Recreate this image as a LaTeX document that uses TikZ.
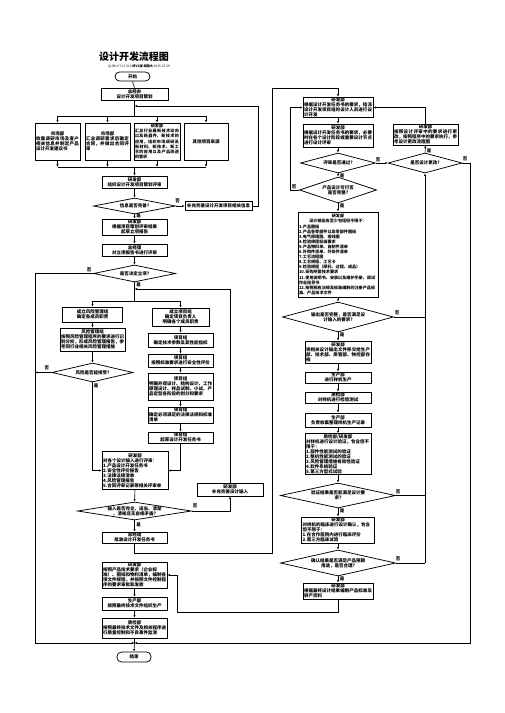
\documentclass[tikz,border=0pt]{standalone}
\usepackage{fontspec}
\setmainfont{Noto Sans CJK SC}
\usetikzlibrary{shapes.geometric,arrows.meta}
\XeTeXlinebreaklocale "zh"
\XeTeXlinebreakskip=0pt plus 0.8pt
\newcommand\hd[1]{{\centering #1\par}}
\newcommand\fsz{\fontsize{4.5}{5.0}\selectfont\bfseries}
\newcommand\fsm{\fontsize{4.1}{5.1}\selectfont\bfseries}
\tikzset{
  bx/.style={draw, line width=0.75pt, inner sep=0.6pt, font=\fsz, align=flush center,
    minimum width=#1pt, /utils/exec={\pgfmathsetlengthmacro\tw{#1pt-2pt}}, text width/.expanded=\tw},
  bxj/.style={bx=#1, align=justify},
  bxl/.style={bx=#1, align=flush left},
  dia/.style n args={2}{diamond, draw, line width=0.75pt, inner sep=0pt, minimum width=#1pt, minimum height=#2pt},
  dt/.style={font=\fsz, align=flush center, inner sep=0pt},
  yn/.style={font=\fsz, inner sep=0pt},
  ov/.style={draw, line width=0.75pt, rounded corners=4.5pt, font=\fsz, minimum width=35pt, minimum height=9pt, inner sep=0pt},
  ln/.style={line width=0.6pt},
  ar/.style={line width=0.6pt, -{Latex[length=2.6pt,width=2.2pt]}},
}
\begin{document}
\begin{tikzpicture}[x=1pt,y=-1pt]
\useasboundingbox (0,0) rectangle (504,713);
% title
\node[font=\bfseries\fontsize{10}{12}\selectfont, inner sep=0pt] (title) at (134,57) {设计开发流程图};
\node[font=\fontsize{3.2}{4}\selectfont, inner sep=0pt] (sub) at (139,66) {QI.RD.07.17.013 \textbf{修V1版 胡国大} 2015.07.29};
\node[ov] (start) at (132.5,76.5) {开始};
\node[bx=67, minimum height=12pt] (plan) at (134.5,94) {总经办\\设计开发项目策划};
% four sources
\node[bxj=45, minimum height=37pt] (b1) at (57.5,141.5) {\hd{市场部}收集调研市场及客户相关信息并制定产品设计开发建议书};
\node[bxj=45, minimum height=37pt] (b2) at (107.5,141.5) {\hd{市场部}汇总调研需求后确定合同，并做出合同评审};
\node[bxj=46, minimum height=37pt, font=\fsm] (b3) at (157,141.5) {\hd{研发部}汇总行业最新技术动向以及新器件、新技术的应用，组织市场调研及新材料、新技术、新工艺的应用以及产品改进的需求};
\node[bx=44, minimum height=37pt] (b4) at (206,141.5) {其他项目来源};
\coordinate (j106) at (134.5,106);
\coordinate (jdist) at (134.5,116);
\coordinate (jcol) at (134.5,167);
\draw[ln] (start.south) -- (plan.north);
\draw[ln] (plan.south) -- (jdist);
\draw[ln] (b1.north |- jdist) -- (b4.north |- jdist);
\foreach \b in {b1,b2,b3,b4} {
  \draw[ar] (\b.north |- jdist) -- (\b.north);
  \draw[ar] (\b.south) -- (\b.south |- jcol);
}
\draw[ln] (b1.south |- jcol) -- (b4.south |- jcol);
\node[bx=65, minimum height=12pt] (rev1) at (134.5,182) {研发部\\组织设计开发项目策划评审};
\draw[ar] (jcol) -- (rev1.north);
\node[dia={82}{16}] (d1) at (134.5,206) {};
\node[dt] (d1t) at (d1) {信息是否完善?};
\node[bx=67, minimum height=9pt] (sup1) at (218.5,206) {补充完善设计开发项目相关信息};
\coordinate (lp1) at (258,206);
\draw[ar] (rev1.south) -- (d1.north);
\draw[ar] (d1.east) -- (sup1.west);
\node[yn] (d1n) at (177.5,201) {否};
\draw[ar] (sup1.east) -- (lp1) |- (j106);
\node[bx=65, minimum height=16pt] (rep) at (134.5,227) {研发部\\根据项目策划评审结果\\起草立项报告};
\draw[ar] (d1.south) -- (rep.north);
\node[yn] (d1y) at (138.5,216) {是};
\node[bx=65, minimum height=12pt] (gm) at (134.5,250) {总经理\\对立项报告书进行评审};
\draw[ar] (rep.south) -- (gm.north);
\node[dia={82}{17}] (d2) at (134.5,273.5) {};
\node[dt] (d2t) at (d2) {是否决定立项?};
\draw[ar] (gm.south) -- (d2.north);
\node[yn] (d2n) at (89,270) {否};
\node[yn] (d2y) at (138.5,285) {是};
\coordinate (xl1) at (35,273.5);
\coordinate (j289) at (134.5,289);
\coordinate (jsplit) at (134.5,301);
\coordinate (jend) at (134.5,643);
\draw[ln] (d2.south) -- (jsplit);
% left risk column
\node[bx=60, minimum height=15pt] (l1) at (92.5,314.5) {成立风险管理组\\确定各成员职责};
\node[bxj=65, minimum height=23pt] (l2) at (92.5,339.5) {\hd{风险管理组}按照风险管理程序的要求进行识别分析，形成风险管理报告，参考同行业相关风险管理措施};
\node[dia={81}{19}] (dl) at (92.5,372.5) {};
\node[dt] (dlt) at (dl) {风险是否能接受?};
% right project column
\node[bx=57, minimum height=18pt] (r1) at (180.5,317) {成立项目组\\确定项目负责人\\明确各个成员职责};
\node[bx=65, minimum height=14pt] (r2) at (180.5,340) {项目组\\确定技术参数及其性能指标};
\node[bx=65, minimum height=13pt] (r3) at (180.5,360.5) {项目组\\按照标准要求进行安全性评价};
\node[bxj=65, minimum height=27pt] (r4) at (180.5,386.5) {\hd{项目组}明确外观设计、结构设计、工作原理设计、样品试制、小试、产品定型各阶段的划分和要求};
\node[bxj=65, minimum height=16pt] (r5) at (180.5,415) {\hd{项目组}确定必须满足的法律法规和标准清单};
\node[bx=65, minimum height=11pt] (r6) at (180.5,437.5) {项目组\\起草设计开发任务书};
\draw[ln] (l1.north |- jsplit) -- (r1.north |- jsplit);
\draw[ar] (l1.north |- jsplit) -- (l1.north);
\draw[ar] (r1.north |- jsplit) -- (r1.north);
\draw[ar] (l1.south) -- (l2.north);
\draw[ar] (l2.south) -- (dl.north);
\draw[ar] (r1.south) -- (r2.north);
\draw[ar] (r2.south) -- (r3.north);
\draw[ar] (r3.south) -- (r4.north);
\draw[ar] (r4.south) -- (r5.north);
\draw[ar] (r5.south) -- (r6.north);
\node[yn] (dln) at (47,368) {否};
\node[yn] (dly) at (96,386) {是};
% review of inputs
\node[bxl=66, minimum height=38pt] (rev2) at (135,470.5) {\hd{研发部}对各个设计输入进行评审：\\1.产品设计开发任务书\\2.安全性评价报告\\3.法律法规清单\\4.风险管理报告\\5.合同评审记录等相关评审单};
\draw[ar] (dl.south) |- (rev2.west);
\draw[ar] (r6.south) |- (rev2.east);
\node[bx=66, minimum height=13pt] (sup2) at (230,489.5) {研发部\\补充完善设计输入};
\node[dia={114}{18}] (d3) at (134.5,511) {};
\node[dt] (d3t) at (d3) {输入是否完全、适当、清楚\\、清晰且无自相矛盾?};
\draw[ar] (rev2.south) -- (d3.north);
\draw[ar] (d3.east) -| (sup2.south);
\draw[ar] (sup2.north) |- (j289);
\node[yn] (d3n) at (195,506) {否};
\node[yn] (d3y) at (138.5,525) {是};
\node[bx=65, minimum height=11pt] (appr) at (134.5,537.5) {总经理\\批准设计开发任务书};
\draw[ar] (d3.south) -- (appr.north);
% execution column
\node[bxl=65, minimum height=26pt] (e1) at (134.5,575) {\hd{研发部}按照产品技术要求（企业标准）、图纸和物料清单，编制各项文件规程，并按照文件控制程序的要求审批和发放};
\node[bx=65, minimum height=13pt] (e2) at (134.5,603.5) {生产部\\按照最终技术文件组织生产};
\node[bxj=65, minimum height=20pt] (e3) at (134.5,628) {\hd{质检部}按照最终技术文件及相关程序进行质量控制和不良事件监测};
\node[ov, minimum width=34pt, minimum height=10pt] (endn) at (134,657) {结束};
\draw[ar] (e1.south) -- (e2.north);
\draw[ar] (e2.south) -- (e3.north);
\draw[ln] (e3.south) -- (jend);
\draw[ar] (jend) -- (endn.north);
\draw[ar] (d2.west) -- (xl1) |- (jend);
\draw[ar] (dl.west) -- (dl.west -| xl1);
% right column
\coordinate (c553) at (134.5,553);
\coordinate (c272a) at (272,553);
\coordinate (c272b) at (272,88);
\node[bxj=70, minimum height=19pt] (ra) at (338,107.5) {\hd{研发部}根据设计开发任务书的要求，指派设计开发项目组的设计人员进行设计开发};
\node[bxj=70, minimum height=23pt] (rb) at (338,135.5) {\hd{研发部}根据设计开发任务书的要求，必要时在各个设计阶段或重要设计节点进行设计评审};
\draw[ar] (appr.south) -- (c553) -- (c272a) -- (c272b) -| (ra.north);
\draw[ar] (ra.south) -- (rb.north);
\node[dia={75}{20}] (rd1) at (338,163) {};
\node[dt] (rd1t) at (rd1) {评审是否通过?};
\node[dia={74}{20}] (rd2) at (425,163) {};
\node[dt] (rd2t) at (rd2) {是否设计更改?};
\node[bxj=65, minimum height=21pt] (rc) at (425.5,134.5) {\hd{研发部}按照设计评审中的要求进行更改，按照程序中的要求执行，参考设计更改流程图};
\draw[ar] (rb.south) -- (rd1.north);
\draw[ar] (rd1.east) -- (rd2.west);
\draw[ar] (rd2.north) -- (rc.south);
\draw[ar] (rc.north) |- (ra.east);
\node[yn] (rd1n) at (378,160) {否};
\node[yn] (rd2y) at (429,150.5) {是};
\node[yn] (rd2n) at (465,158.5) {否};
\coordinate (xr1) at (470,163);
\draw[ar] (rd2.east) -- (xr1) |- (jend);
\node[dia={77}{26}] (rd3) at (338,190) {};
\node[dt] (rd3t) at (rd3) {产品设计可行否\\是否完整?};
\draw[ar] (rd1.south) -- (rd3.north);
\node[yn] (rd1y) at (342,176) {是};
\coordinate (c290) at (290,190);
\draw[ar] (rd3.west) -- (c290) |- (ra.west);
\node[yn] (rd3n) at (294,187) {否};
\node[bxl=80, minimum height=85pt, font=\fsm] (re) at (338,254.5) {\hd{研发部}\hd{设计输出应至少包括但不限于：}1.产品图纸\\2.产品各零部件以及零部件图纸\\3.电气原理图、接线图\\4.检验规程标准要求\\5.产品物料单、自制件清单\\6.外购件清单、外协件清单\\7.工艺流程图\\8.工艺规程、工艺卡\\9.检验规程（原料、过程、成品）\\10.采购所需技术要求\\11.使用说明书、安装以及维护手册、调试作业指导书\\12.按照相应法规及标准编制的注册产品标准、产品技术文件};
\draw[ar] (rd3.south) -- (re.north);
\node[yn] (rd3y) at (342,206) {是};
\node[dia={111}{30}] (rd4) at (338,317) {};
\node[dt] (rd4t) at (rd4) {输出是否完整，是否满足设\\计输入的要求?};
\draw[ar] (re.south) -- (rd4.north);
\node[yn] (rd4n) at (397,313) {否};
\node[yn] (rd4y) at (342,335) {是};
\node[bxj=66, minimum height=22pt] (rf) at (338,352) {\hd{研发部}将相关设计输出文件移交给生产部、技术部、质管部、物控部存档};
\node[bx=66, minimum height=11pt] (rg) at (338,377.5) {生产部\\进行样机生产};
\node[bx=66, minimum height=11pt] (rh) at (338,397.5) {质检部\\对样机进行检验测试};
\node[bx=66, minimum height=14pt] (ri) at (338,420) {生产部\\负责收集整理样机生产记录};
\node[bxl=66, minimum height=40pt] (rj) at (338,454) {\hd{质检部/研发部}对样机进行设计验证，包含但不限于：\\1.部件性能测试的验证\\2.整机性能测试的验证\\3.风险管理措施有效性验证\\4.软件系统验证\\5.第三方型式试验};
\draw[ar] (rd4.south) -- (rf.north);
\draw[ar] (rf.south) -- (rg.north);
\draw[ar] (rg.south) -- (rh.north);
\draw[ar] (rh.south) -- (ri.north);
\draw[ar] (ri.south) -- (rj.north);
\node[dia={115}{25}] (rd5) at (338,495.5) {};
\node[dt] (rd5t) at (rd5) {验证结果是否能满足设计要\\求?};
\draw[ar] (rj.south) -- (rd5.north);
\node[yn] (rd5n) at (398,492) {否};
\node[yn] (rd5y) at (342,511) {是};
\node[bxl=73, minimum height=26pt] (rk) at (338,530) {\hd{研发部}对样机的临床进行设计确认，包含但不限于：\\1.在合作医院内进行临床评价\\2.第三方临床试验};
\draw[ar] (rd5.south) -- (rk.north);
\node[dia={115}{26}] (rd6) at (338,563) {};
\node[dt] (rd6t) at (rd6) {确认结果是否满足产品预期\\用途，是否合理?};
\draw[ar] (rk.south) -- (rd6.north);
\node[yn] (rd6n) at (398,559) {否};
\node[yn] (rd6y) at (342,579) {是};
\node[bxj=70, minimum height=16pt] (rl) at (338,591) {\hd{研发部}根据最终设计结果编制产品标准及转产资料};
\draw[ar] (rd6.south) -- (rl.north);
\coordinate (c177) at (177,612);
\draw[ar] (rl.south) |- (c177) |- (e1.east);
\coordinate (c425) at (425,563);
\draw[ln] (rd4.east) -- (rd4.east -| c425);
\draw[ln] (rd5.east) -- (rd5.east -| c425);
\draw[ln] (rd6.east) -- (c425);
\draw[ar] (c425) -- (rd2.south);
\end{tikzpicture}
\end{document}
